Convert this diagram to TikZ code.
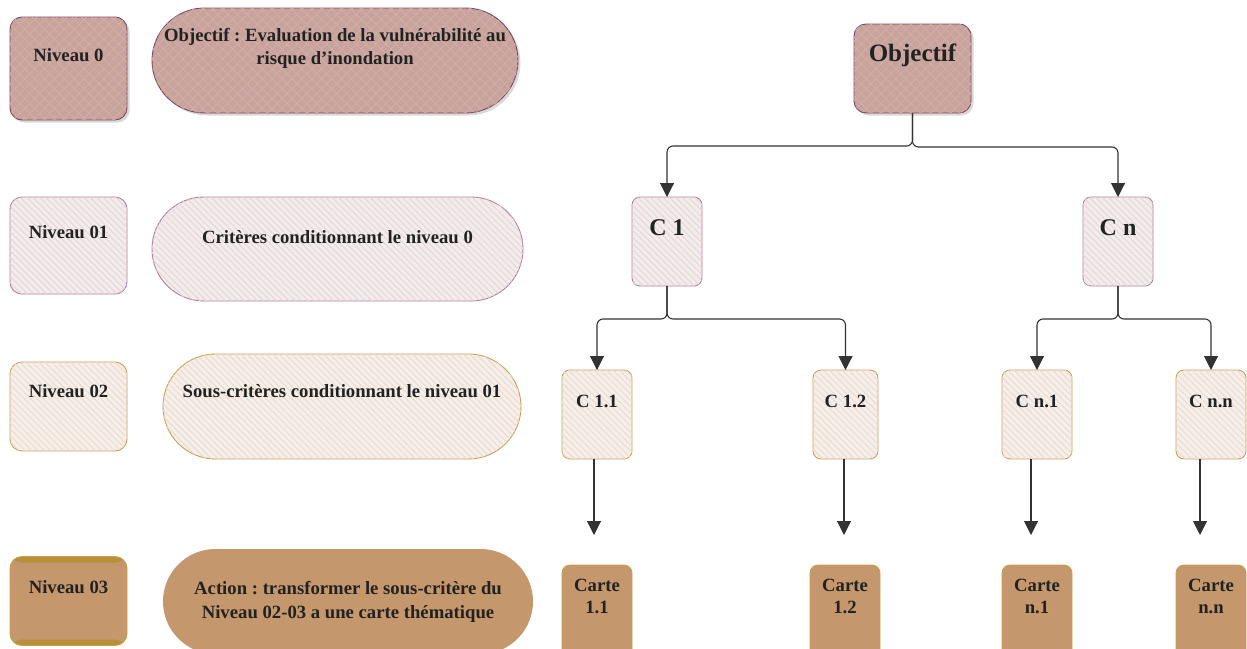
\documentclass[tikz,border=0pt]{standalone}
\usepackage{fontspec}
\setmainfont{Liberation Serif}
\frenchspacing
\usetikzlibrary{arrows.meta,shapes.misc,shadows,patterns.meta}
\definecolor{rosefill}{HTML}{C6A39D}
\definecolor{roseline}{HTML}{D6ADA4}
\definecolor{roseedge}{HTML}{7D4660}
\definecolor{pinkfill}{HTML}{F3ECEC}
\definecolor{pinkline}{HTML}{E6D6D9}
\definecolor{pinkedge}{HTML}{B07C9C}
\definecolor{creamfill}{HTML}{F6EEE8}
\definecolor{creamline}{HTML}{EADCD2}
\definecolor{goldedge}{HTML}{C99F4F}
\definecolor{tanfill}{HTML}{C4976C}
\definecolor{tanstrip}{HTML}{B8903A}
\definecolor{ink}{HTML}{222222}
\definecolor{wire}{HTML}{333333}
\begin{document}
\begin{tikzpicture}[x=1pt,y=-1pt,
	box/.style={rectangle,rounded corners=12pt,inner sep=0pt,outer sep=0pt,line width=0.9pt},
	cbox/.style={box,rounded corners=8pt,minimum width=70pt,minimum height=89pt},
	pill/.style={rounded rectangle,inner sep=0pt,outer sep=0pt,line width=0.9pt},
	lvlzero/.style={draw=roseedge,fill=rosefill,drop shadow={shadow xshift=2.5pt,shadow yshift=-2.5pt,opacity=0.3},
		postaction={pattern={Lines[angle=45,distance=7pt,line width=0.8pt]},pattern color=roseline},
		postaction={pattern={Lines[angle=-45,distance=7pt,line width=0.8pt]},pattern color=roseline}},
	lvlone/.style={draw=pinkedge,fill=pinkfill,postaction={pattern={Lines[angle=-45,distance=4.5pt,line width=1pt]},pattern color=pinkline}},
	lvltwo/.style={draw=goldedge,fill=creamfill,postaction={pattern={Lines[angle=-45,distance=4.5pt,line width=1pt]},pattern color=creamline}},
	lvlthree/.style={draw=goldedge,fill=tanfill},
	txt/.style={font=\bfseries\fontsize{18.7}{23.5}\selectfont,text=ink,align=center,inner sep=0pt},
	conn/.style={draw=wire,line width=1.1pt,rounded corners=6pt,-{Triangle[width=14pt,length=14pt]}}]
	\useasboundingbox (0,0) rectangle (1247,648);
	\clip (0,0) rectangle (1247,648);

	\node[box,lvlzero,minimum width=117pt,minimum height=103pt] (n0) at (68.5,68.5) {};
	\node[pill,lvlzero,minimum width=366pt,minimum height=105pt] (p0) at (335,60.5) {};
	\node[box,lvlone,minimum width=117pt,minimum height=97pt] (n1) at (68.5,245.5) {};
	\node[pill,lvlone,minimum width=371pt,minimum height=104pt] (p1) at (337.5,249) {};
	\node[box,lvltwo,minimum width=117pt,minimum height=89pt] (n2) at (68.5,406.5) {};
	\node[pill,lvltwo,minimum width=358pt,minimum height=105pt] (p2) at (342,406.5) {};
	\node[box,lvlthree,minimum width=117pt,minimum height=89pt,
		path picture={\fill[tanstrip] (path picture bounding box.north west) rectangle ([yshift=-6pt]path picture bounding box.north east);
			\fill[tanstrip] (path picture bounding box.south west) rectangle ([yshift=6pt]path picture bounding box.south east);}] (n3) at (68.5,601) {};
	\node[pill,lvlthree,draw=none,minimum width=370pt,minimum height=105pt] (p3) at (348,601.5) {};

	\node[txt] (n0t) at (68.5,55) {Niveau 0};
	\node[txt] (p0t) at (335,48.5) {Objectif : Evaluation de la vulnérabilité au\\risque d’inondation};
	\node[txt] (n1t) at (68.5,232) {Niveau 01};
	\node[txt] (p1t) at (337.5,237) {Critères conditionnant le niveau 0};
	\node[txt] (n2t) at (68.5,391) {Niveau 02};
	\node[txt] (p2t) at (342,391) {Sous-critères conditionnant le niveau 01};
	\node[txt] (n3t) at (68.5,587) {Niveau 03};
	\node[txt] (p3t) at (348,602) {Action : transformer le sous-critère du\\Niveau 02-03 a une carte thématique};

	\node[box,lvlzero,minimum width=117pt,minimum height=89pt] (obj) at (912.5,68.5) {};
	\node[txt,font=\bfseries\fontsize{25}{30}\selectfont] at (912.5,55) {Objectif};
	\node[cbox,lvlone] (c1) at (667,241.5) {};
	\node[cbox,lvlone] (cn) at (1118,241.5) {};
	\node[txt,font=\bfseries\fontsize{24}{28}\selectfont] at (667,228) {C 1};
	\node[txt,font=\bfseries\fontsize{24}{28}\selectfont] at (1118,228) {C n};

	\node[cbox,lvltwo] (c11) at (597,414.5) {};
	\node[cbox,lvltwo,minimum width=65pt] (c12) at (845.5,414.5) {};
	\node[cbox,lvltwo] (cn1) at (1037,414.5) {};
	\node[cbox,lvltwo] (cnn) at (1211,414.5) {};
	\node[txt] at (597,401) {C 1.1};
	\node[txt] at (845.5,401) {C 1.2};
	\node[txt] at (1037,401) {C n.1};
	\node[txt] at (1211,401) {C n.n};

	\node[cbox,lvlthree,minimum height=92pt] (k11) at (597,611) {};
	\node[cbox,lvlthree,minimum height=92pt] (k12) at (845,611) {};
	\node[cbox,lvlthree,minimum height=92pt] (kn1) at (1037,611) {};
	\node[cbox,lvlthree,minimum height=92pt] (knn) at (1211,611) {};
	\node[txt,font=\bfseries\fontsize{18.7}{21.5}\selectfont] at (597,596.5) {Carte\\1.1};
	\node[txt,font=\bfseries\fontsize{18.7}{21.5}\selectfont] at (845,596.5) {Carte\\1.2};
	\node[txt,font=\bfseries\fontsize{18.7}{21.5}\selectfont] at (1037,596.5) {Carte\\n.1};
	\node[txt,font=\bfseries\fontsize{18.7}{21.5}\selectfont] at (1211,596.5) {Carte\\n.n};

	\draw[conn] (obj.south) -- ++(0,33) -| (c1.north);
	\draw[conn] (obj.south) -- ++(0,34) -| (cn.north);
	\draw[conn] (c1.south) -- ++(0,33) -| (c11.north);
	\draw[conn] (c1.south) -- ++(0,33) -| (c12.north);
	\draw[conn] (cn.south) -- ++(0,33) -| (cn1.north);
	\draw[conn] (cn.south) -- ++(0,33) -| (cnn.north);

	\coordinate (e11) at (594,535);
	\coordinate (e12) at (844,535);
	\coordinate (en1) at (1031,535);
	\coordinate (enn) at (1200,535);
	\draw[conn] (c11.south -| e11) -- (e11);
	\draw[conn] (c12.south -| e12) -- (e12);
	\draw[conn] (cn1.south -| en1) -- (en1);
	\draw[conn] (cnn.south -| enn) -- (enn);
\end{tikzpicture}
\end{document}
